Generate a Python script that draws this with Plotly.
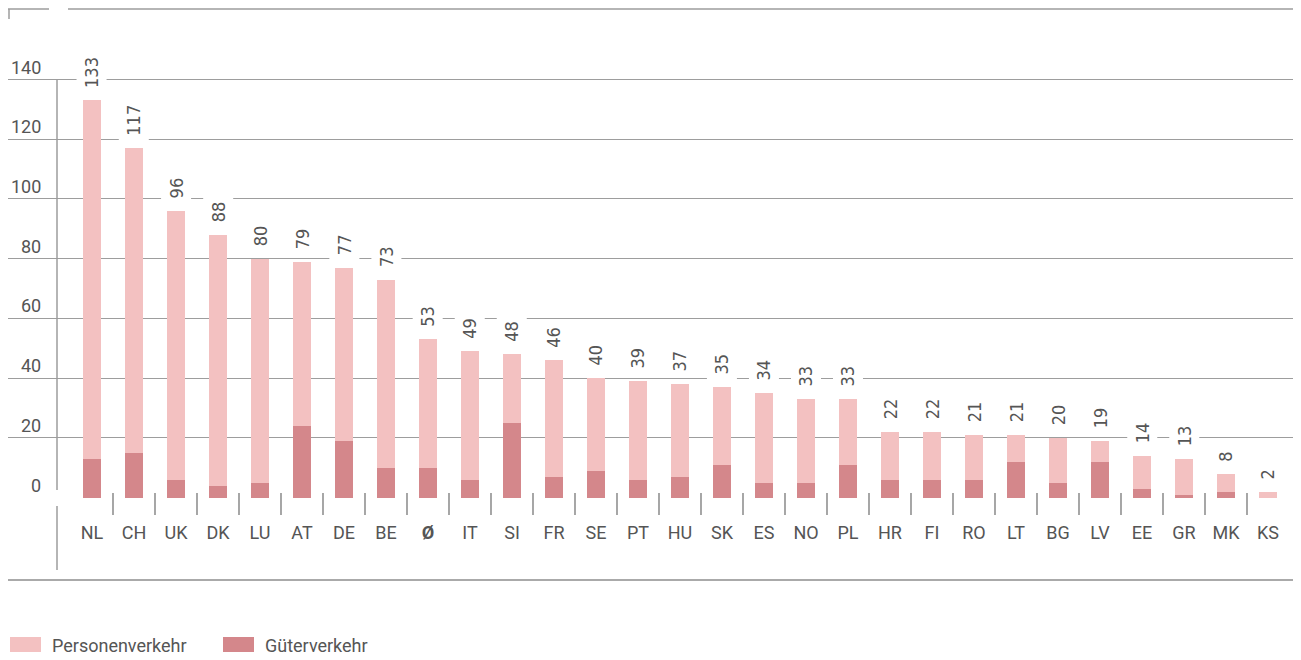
import plotly.graph_objects as go

categories = ["NL", "CH", "UK", "DK", "LU", "AT", "DE", "BE", "Ø", "IT", "SI", "FR", "SE", "PT",
              "HU", "SK", "ES", "NO", "PL", "HR", "FI", "RO", "LT", "BG", "LV", "EE", "GR", "MK", "KS"]
gueterverkehr = [13, 15, 6, 4, 5, 24, 19, 10, 10, 6, 25, 7, 9, 6,
                 7, 11, 5, 5, 11, 6, 6, 6, 12, 5, 12, 3, 1, 2, 0]
personenverkehr = [120, 102, 90, 84, 75, 55, 58, 63, 43, 43, 23, 39, 31, 33,
                   31, 26, 30, 28, 22, 16, 16, 15, 9, 15, 7, 11, 12, 6, 2]
value_labels = [133, 117, 96, 88, 80, 79, 77, 73, 53, 49, 48, 46, 40, 39,
                37, 35, 34, 33, 33, 22, 22, 21, 21, 20, 19, 14, 13, 8, 2]
y_ticks = [0, 20, 40, 60, 80, 100, 120, 140]
series_names = ["Personenverkehr", "Güterverkehr"]

COL_P = "#F3C1C1"
COL_G = "#D4878B"
GRID = "#9d9d9d"
TEXT = "#555555"
FONT = "Roboto, Liberation Sans, sans-serif"
NARROW = "Liberation Sans Narrow, DejaVu Sans Condensed, Roboto, sans-serif"

# page has an 8px body margin; figure is sized so that it fills the window
OFF = 8
W, H = 1301 - OFF, 660 - OFF
ZERO_PX = 498          # position of the zero line in window pixels
MB = H - (ZERO_PX - OFF)
PW = W
PH = ZERO_PX - OFF
PX_PER_UNIT = 418 / 140.0
Y0 = -0.15
Y1 = Y0 + PH / PX_PER_UNIT
CAT_PX = 42.0
FIRST_CAT_PX = 92
X0 = -(FIRST_CAT_PX - OFF) / CAT_PX
X1 = X0 + PW / CAT_PX


def px_x(px):
    return (px - OFF) / PW


def px_y(py):
    return (ZERO_PX - py) / PH


fig = go.Figure()
fig.add_trace(go.Bar(x=categories, y=gueterverkehr, name=series_names[1],
                     marker=dict(color=COL_G, line=dict(width=0)), showlegend=False))
fig.add_trace(go.Bar(x=categories, y=personenverkehr, name=series_names[0],
                     marker=dict(color=COL_P, line=dict(width=0)), showlegend=False))

ticktext = [("<b>%s</b>" % c) if c == "Ø" else c for c in categories]

annotations = []
totals = [g + p for g, p in zip(gueterverkehr, personenverkehr)]
for c, t, lab in zip(categories, totals, value_labels):
    annotations.append(dict(x=c, y=t, xref="x", yref="y", text=str(lab), showarrow=False,
                            textangle=-90, yanchor="bottom", xanchor="center", yshift=7,
                            bgcolor="white", borderpad=4,
                            font=dict(family=NARROW, size=18, color=TEXT)))
for v in y_ticks:
    annotations.append(dict(x=px_x(43), y=v, xref="paper", yref="y", text=str(v), showarrow=False,
                            xanchor="right", yanchor="bottom", yshift=0,
                            font=dict(family=FONT, size=18, color=TEXT)))

# legend
legend_items = [(series_names[0], COL_P, 10, 41, 50), (series_names[1], COL_G, 223, 254, 263)]
shapes = []
for name, col, x0, x1, tx in legend_items:
    shapes.append(dict(type="rect", xref="paper", yref="paper", x0=px_x(x0), x1=px_x(x1),
                       y0=px_y(637), y1=px_y(652), fillcolor=col, line=dict(width=0)))
    annotations.append(dict(x=px_x(tx), y=px_y(645), xref="paper", yref="paper", text=name,
                            showarrow=False, xanchor="left", yanchor="middle",
                            font=dict(family=FONT, size=18, color=TEXT)))

# mask gridlines between label lines and plot
shapes.append(dict(type="rect", xref="paper", yref="paper", x0=px_x(49), x1=px_x(68),
                   y0=-0.02, y1=1.0, fillcolor="white", line=dict(width=0), layer="between"))
# vertical axis line (broken around zero)
shapes.append(dict(type="line", xref="paper", yref="paper", x0=px_x(57), x1=px_x(57),
                   y0=px_y(80), y1=px_y(490), line=dict(color=GRID, width=1.5)))
shapes.append(dict(type="line", xref="paper", yref="paper", x0=px_x(57), x1=px_x(57),
                   y0=px_y(506), y1=px_y(570), line=dict(color=GRID, width=1.5)))
# top frame line
shapes.append(dict(type="line", xref="paper", yref="paper", x0=px_x(68), x1=1,
                   y0=px_y(9), y1=px_y(9), line=dict(color=GRID, width=1.5)))
shapes.append(dict(type="line", xref="paper", yref="paper", x0=px_x(8), x1=px_x(49),
                   y0=px_y(9), y1=px_y(9), line=dict(color=GRID, width=1.5)))
shapes.append(dict(type="line", xref="paper", yref="paper", x0=px_x(9), x1=px_x(9),
                   y0=px_y(9), y1=px_y(19), line=dict(color=GRID, width=1.5)))
# bottom frame line
shapes.append(dict(type="line", xref="paper", yref="paper", x0=0, x1=1,
                   y0=px_y(580), y1=px_y(580), line=dict(color="#aaaaaa", width=2)))
# category boundary ticks
for i in range(len(categories) - 1):
    shapes.append(dict(type="line", xref="x", yref="paper", x0=i + 0.5, x1=i + 0.5,
                       y0=px_y(493), y1=px_y(515), line=dict(color="#777777", width=1.3)))

fig.update_layout(
    width=W, height=H,
    margin=dict(l=0, r=0, t=0, b=MB, pad=0),
    barmode="stack", bargap=0.55,
    plot_bgcolor="white", paper_bgcolor="white",
    font=dict(family=FONT, color=TEXT),
    annotations=annotations, shapes=shapes,
    xaxis=dict(type="category", range=[X0, X1], showgrid=False, zeroline=False,
               showline=False, ticks="", tickvals=categories, ticktext=ticktext,
               tickfont=dict(family=FONT, size=18, color=TEXT), ticklabelstandoff=22),
    yaxis=dict(range=[Y0, Y1], tickvals=y_ticks, showticklabels=False, showgrid=True,
               gridcolor=GRID, gridwidth=1.4, zeroline=False, showline=False, ticks=""),
)

fig.write_html("out.html")
